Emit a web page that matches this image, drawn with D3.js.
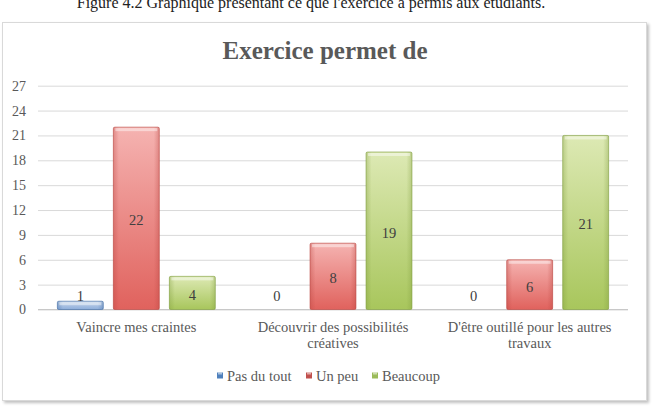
<!DOCTYPE html>
<html>
<head>
<meta charset="utf-8">
<script src="https://cdn.jsdelivr.net/npm/d3@7/dist/d3.min.js"></script>
<style>
  html, body { margin: 0; padding: 0; background: #fff; }
  svg { display: block; }
</style>
</head>
<body>
<svg id="chart" width="653" height="419"></svg>
<script>
const caption = "Figure 4.2 Graphique présentant ce que l'exercice a permis aux étudiants.";
const title = "Exercice permet de";
const categories = ["Vaincre mes craintes", "Découvrir des possibilités créatives", "D'être outillé pour les autres travaux"];
const seriesNames = ["Pas du tout", "Un peu", "Beaucoup"];
const pasDuTout = [1, 0, 0];
const unPeu = [22, 8, 6];
const beaucoup = [4, 19, 21];
const yTicks = [0, 3, 6, 9, 12, 15, 18, 21, 24, 27];

const seriesValues = [pasDuTout, unPeu, beaucoup];
const palette = [
  { top: "#c6d6ea", bottom: "#8eaedb", stroke: "#3f6aa3", legend: "#4f81bd" },
  { top: "#f5b3b1", bottom: "#e0625d", stroke: "#b9443f", legend: "#c0504d" },
  { top: "#dde9b4", bottom: "#a8c65c", stroke: "#7f9c3e", legend: "#9bbb59" }
];

const svg = d3.select("#chart");
const serif = "'Liberation Serif', 'DejaVu Serif', serif";

// caption (partially cut off at top, as in the source image)
svg.append("text")
  .attr("x", 311).attr("y", 8)
  .attr("text-anchor", "middle")
  .attr("font-family", serif)
  .attr("font-size", 16)
  .attr("fill", "#222")
  .text(caption);

// defs
const defs = svg.append("defs");
const shadow = defs.append("filter").attr("id", "shadow").attr("x", "-5%").attr("y", "-5%").attr("width", "110%").attr("height", "110%");
shadow.append("feGaussianBlur").attr("in", "SourceAlpha").attr("stdDeviation", 1.5);
shadow.append("feOffset").attr("dx", 1.5).attr("dy", 1.5).attr("result", "ob");
shadow.append("feComponentTransfer").append("feFuncA").attr("type", "linear").attr("slope", 0.25);
const fm = shadow.append("feMerge");
fm.append("feMergeNode");
fm.append("feMergeNode").attr("in", "SourceGraphic");

palette.forEach((p, i) => {
  const g = defs.append("linearGradient").attr("id", "grad" + i)
    .attr("x1", 0).attr("y1", 0).attr("x2", 0).attr("y2", 1);
  g.append("stop").attr("offset", "0%").attr("stop-color", p.top);
  g.append("stop").attr("offset", "100%").attr("stop-color", p.bottom);
  const h = defs.append("linearGradient").attr("id", "hgrad" + i)
    .attr("x1", 0).attr("y1", 0).attr("x2", 1).attr("y2", 0);
  h.append("stop").attr("offset", "0%").attr("stop-color", p.stroke).attr("stop-opacity", 0.35);
  h.append("stop").attr("offset", "12%").attr("stop-color", p.stroke).attr("stop-opacity", 0);
  h.append("stop").attr("offset", "88%").attr("stop-color", p.stroke).attr("stop-opacity", 0);
  h.append("stop").attr("offset", "100%").attr("stop-color", p.stroke).attr("stop-opacity", 0.35);
});

// frame
svg.append("rect")
  .attr("x", 2.5).attr("y", 22.5).attr("width", 644).attr("height", 378)
  .attr("fill", "#fff").attr("stroke", "#d9d9d9").attr("stroke-width", 1)
  .attr("filter", "url(#shadow)");

// title
svg.append("text")
  .attr("x", 325).attr("y", 59)
  .attr("text-anchor", "middle")
  .attr("font-family", serif)
  .attr("font-weight", "bold")
  .attr("font-size", 25)
  .attr("fill", "#595959")
  .text(title);

const plotLeft = 38, plotRight = 628;
const y = d3.scaleLinear().domain([0, 27]).range([309.5, 85.7]);
const x0 = d3.scaleBand().domain(categories).range([plotLeft, plotRight]).paddingInner(0.197).paddingOuter(0.0985);
const x1 = d3.scaleBand().domain(seriesNames).range([0, x0.bandwidth()]).paddingInner(0.18);

// gridlines
const yAxis = d3.axisLeft(y).tickValues(yTicks).tickSize(-(plotRight - plotLeft)).tickPadding(12);
const gy = svg.append("g").attr("transform", `translate(${plotLeft},0)`).call(yAxis);
gy.select(".domain").remove();
gy.selectAll(".tick line").attr("stroke", "#d9d9d9").attr("stroke-width", 1);
gy.selectAll(".tick text")
  .attr("font-family", serif).attr("font-size", 14).attr("fill", "#595959");

// x axis
const xAxis = d3.axisBottom(x0).tickSize(0).tickPadding(12);
const gx = svg.append("g").attr("transform", `translate(0,${y(0)})`).call(xAxis);
gx.select(".domain").attr("stroke", "#c8c8c8").attr("d", `M${plotLeft},0H${plotRight}`);
gx.selectAll(".tick text")
  .attr("font-family", serif).attr("font-size", 14.5).attr("fill", "#595959")
  .call(wrap, 170);

function wrap(texts, width) {
  texts.each(function () {
    const t = d3.select(this);
    const words = t.text().split(/\s+/);
    const yAttr = t.attr("y"), dy = parseFloat(t.attr("dy"));
    t.text(null);
    let line = [], lineNo = 0;
    let tspan = t.append("tspan").attr("x", 0).attr("y", yAttr).attr("dy", dy + "em");
    words.forEach(w => {
      line.push(w);
      tspan.text(line.join(" "));
      if (tspan.node().getComputedTextLength() > width && line.length > 1) {
        line.pop();
        tspan.text(line.join(" "));
        line = [w];
        lineNo++;
        tspan = t.append("tspan").attr("x", 0).attr("y", yAttr).attr("dy", (lineNo * 1.12 + dy) + "em").text(w);
      }
    });
  });
}

// bars
const data = [];
categories.forEach((c, ci) => {
  seriesNames.forEach((s, si) => {
    data.push({ cat: c, series: s, si, value: seriesValues[si][ci] });
  });
});

const barG = svg.append("g");
const nonZero = data.filter(d => d.value > 0);
barG.selectAll("rect.bar").data(nonZero).join("rect")
  .attr("class", "bar")
  .attr("x", d => x0(d.cat) + x1(d.series))
  .attr("y", d => y(d.value))
  .attr("width", x1.bandwidth())
  .attr("height", d => y(0) - y(d.value))
  .attr("rx", 1.5)
  .attr("fill", d => `url(#grad${d.si})`)
  .attr("stroke", d => palette[d.si].stroke)
  .attr("stroke-opacity", 0.6)
  .attr("stroke-width", 1);
barG.selectAll("rect.shade").data(nonZero).join("rect")
  .attr("class", "shade")
  .attr("x", d => x0(d.cat) + x1(d.series))
  .attr("y", d => y(d.value))
  .attr("width", x1.bandwidth())
  .attr("height", d => y(0) - y(d.value))
  .attr("fill", d => `url(#hgrad${d.si})`);
barG.selectAll("rect.hl").data(nonZero).join("rect")
  .attr("class", "hl")
  .attr("x", d => x0(d.cat) + x1(d.series) + 2)
  .attr("y", d => y(d.value) + 1)
  .attr("width", x1.bandwidth() - 4)
  .attr("height", d => Math.min(3, y(0) - y(d.value) - 2))
  .attr("fill", "#fff").attr("opacity", 0.45);

// data labels
barG.selectAll("text.lbl").data(data).join("text")
  .attr("class", "lbl")
  .attr("x", d => x0(d.cat) + x1(d.series) + x1.bandwidth() / 2)
  .attr("y", d => Math.min((y(d.value) + y(0)) / 2 + 1.5, y(0) - 14))
  .attr("dy", "0.38em")
  .attr("text-anchor", "middle")
  .attr("font-family", serif).attr("font-size", 14.5).attr("fill", "#404040")
  .text(d => d.value);

// legend
const legend = svg.append("g").attr("transform", "translate(0,376)");
const legendX = [217, 306, 372];
seriesNames.forEach((s, i) => {
  const g = legend.append("g").attr("transform", `translate(${legendX[i]},0)`);
  g.append("rect").attr("x", 0).attr("y", -3.5).attr("width", 6).attr("height", 6)
    .attr("fill", palette[i].legend);
  g.append("rect").attr("x", 1).attr("y", -3.5).attr("width", 4).attr("height", 2)
    .attr("fill", "#fff").attr("opacity", 0.5);
  g.append("text").attr("x", 10).attr("y", 0).attr("dy", "0.35em")
    .attr("font-family", serif).attr("font-size", 14.5).attr("fill", "#595959")
    .text(s);
});
</script>
</body>
</html>
